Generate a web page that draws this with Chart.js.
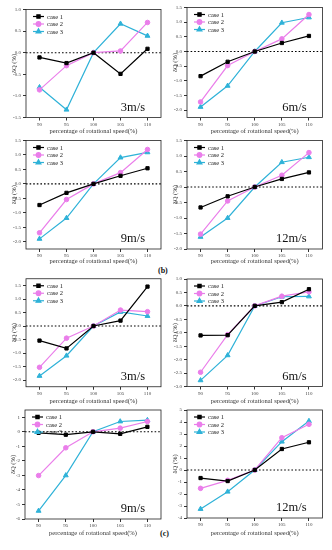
<!DOCTYPE html>
<html>
<head>
<meta charset="utf-8">
<script src="https://cdn.jsdelivr.net/npm/chart.js@4.4.1/dist/chart.umd.min.js"></script>
<style>
  html, body { margin: 0; padding: 0; background: #fff; }
  body { width: 332px; height: 550px; position: relative; overflow: hidden; }
  .tag { position: absolute; font: bold 8px 'Liberation Serif', serif; color: #111; }
</style>
</head>
<body>
<div class="tag" style="left:158px;top:266px">(b)</div>
<div class="tag" style="left:160px;top:529px">(c)</div>
<script>
const speeds = ['90', '95', '100', '105', '110'];
const caseNames = ['case 1', 'case 2', 'case 3'];
const speedTags = ['3m/s', '6m/s', '9m/s', '12m/s'];

// (b)
const b3Case1 = [-0.11, -0.24, 0, -0.49, 0.09];
const b3Case2 = [-0.86, -0.30, 0, 0.04, 0.70];
const b3Case3 = [-0.80, -1.32, 0, 0.67, 0.39];
const b6Case1 = [-0.84, -0.35, 0, 0.29, 0.53];
const b6Case2 = [-1.72, -0.48, 0, 0.43, 1.26];
const b6Case3 = [-1.89, -1.17, 0, 0.98, 1.16];
const b9Case1 = [-0.73, -0.31, 0, 0.28, 0.54];
const b9Case2 = [-1.69, -0.54, 0, 0.39, 1.19];
const b9Case3 = [-1.90, -1.18, 0, 0.91, 1.09];
const b12Case1 = [-0.66, -0.30, 0, 0.26, 0.47];
const b12Case2 = [-1.52, -0.45, 0, 0.38, 1.11];
const b12Case3 = [-1.61, -1.00, 0, 0.80, 0.96];

// (c)
const c3Case1 = [-0.54, -0.83, 0, 0.20, 1.46];
const c3Case2 = [-1.53, -0.45, 0, 0.59, 0.53];
const c3Case3 = [-1.85, -1.10, 0, 0.52, 0.37];
const c6Case1 = [-1.10, -1.09, 0, 0.14, 0.62];
const c6Case2 = [-2.47, -1.07, 0, 0.36, 0.52];
const c6Case3 = [-2.77, -1.84, 0, 0.34, 0.35];
const c9Case1 = [-0.07, -0.20, 0, -0.14, 0.34];
const c9Case2 = [-3.01, -1.10, 0, 0.25, 0.71];
const c9Case3 = [-5.44, -3.00, 0, 0.71, 0.80];
const c12Case1 = [-0.67, -0.92, 0, 1.75, 2.31];
const c12Case2 = [-1.53, -0.86, 0, 2.69, 3.81];
const c12Case3 = [-3.25, -1.81, 0, 2.36, 4.08];

// y tick values
const ticksA = [-1.5, -1.0, -0.5, 0, 0.5, 1.0];
const ticksB = [-2.0, -1.5, -1.0, -0.5, 0, 0.5, 1.0, 1.5];
const ticksC = [-3.0, -2.5, -2.0, -1.5, -1.0, -0.5, 0, 0.5, 1.0];
const ticksD = [-6, -5, -4, -3, -2, -1, 0, 1];
const ticksE = [-4, -3, -2, -1, 0, 1, 2, 3, 4, 5];

const colors = ['#000000', '#ea7eea', '#2fb2d8'];
const marks = ['rect', 'circle', 'triangle'];
const serif = "'Liberation Serif', 'Times New Roman', serif";

// box = canvas [x, y, w, h], plot = [left, top, right, bottom] in page px
const panels = [
  { box: [0, 0, 166, 135], plot: [26, 9.5, 161, 117.5], series: [b3Case1, b3Case2, b3Case3], ticks: ticksA, min: -1.5, max: 1.0, dec: 1, tag: speedTags[0] },
  { box: [166, 0, 166, 135], plot: [187, 7.5, 322.5, 117.5], series: [b6Case1, b6Case2, b6Case3], ticks: ticksB, min: -2.25, max: 1.5, dec: 1, tag: speedTags[1] },
  { box: [0, 135, 166, 130], plot: [26, 140.5, 161, 249], series: [b9Case1, b9Case2, b9Case3], ticks: ticksB, min: -2.25, max: 1.5, dec: 1, tag: speedTags[2] },
  { box: [166, 135, 166, 130], plot: [187, 140.5, 322.5, 249], series: [b12Case1, b12Case2, b12Case3], ticks: ticksB, min: -2.0, max: 1.5, dec: 1, tag: speedTags[3] },
  { box: [0, 270, 166, 135], plot: [26, 278.75, 161, 386.75], series: [c3Case1, c3Case2, c3Case3], ticks: ticksB, min: -2.25, max: 1.75, dec: 1, tag: speedTags[0] },
  { box: [166, 270, 166, 135], plot: [187, 279, 322.5, 386.5], series: [c6Case1, c6Case2, c6Case3], ticks: ticksC, min: -3.0, max: 1.0, dec: 1, tag: speedTags[1] },
  { box: [0, 405, 166, 132], plot: [25, 409.5, 161, 519], series: [c9Case1, c9Case2, c9Case3], ticks: ticksD, min: -6, max: 1.5, dec: 0, tag: speedTags[2] },
  { box: [166, 405, 166, 132], plot: [187, 410, 322.5, 518], series: [c12Case1, c12Case2, c12Case3], ticks: ticksE, min: -4, max: 5, dec: 0, tag: speedTags[3] }
];

const extras = {
  id: 'extras',
  beforeDatasetsDraw(chart) {
    const { ctx, chartArea: a, scales } = chart;
    const y0 = scales.y.getPixelForValue(0);
    ctx.save();
    ctx.strokeStyle = '#000';
    ctx.lineWidth = 1.1;
    ctx.setLineDash([1.6, 2]);
    ctx.beginPath();
    ctx.moveTo(a.left, y0);
    ctx.lineTo(a.right, y0);
    ctx.stroke();
    ctx.restore();
  },
  afterDraw(chart, args, opts) {
    const { ctx, chartArea: a } = chart;
    ctx.save();
    ctx.strokeStyle = '#222';
    ctx.lineWidth = 0.8;
    ctx.strokeRect(a.left, a.top, a.right - a.left, a.bottom - a.top);

    // legend inside the plot, top-left
    chart.data.datasets.forEach((ds, i) => {
      const y = a.top + 7 + i * 7.5;
      ctx.strokeStyle = ds.borderColor;
      ctx.lineWidth = 1.2;
      ctx.beginPath();
      ctx.moveTo(a.left + 7, y);
      ctx.lineTo(a.left + 18, y);
      ctx.stroke();
      ctx.fillStyle = ds.backgroundColor;
      Chart.helpers.drawPoint(ctx, { pointStyle: ds.pointStyle, radius: ds.pointRadius, borderWidth: 1 }, a.left + 12.5, y);
      ctx.fillStyle = '#222';
      ctx.font = '6.5px ' + serif;
      ctx.textBaseline = 'middle';
      ctx.fillText(ds.label, a.left + 21, y + 0.5);
    });

    ctx.fillStyle = '#111';
    ctx.font = '12.5px ' + serif;
    ctx.textAlign = 'right';
    ctx.textBaseline = 'alphabetic';
    ctx.fillText(opts.tag, a.right - 16, a.bottom - 7);
    ctx.restore();
  }
};

function makePanel(p) {
  const cv = document.createElement('canvas');
  cv.width = p.box[2];
  cv.height = p.box[3];
  cv.style.cssText = 'position:absolute;left:' + p.box[0] + 'px;top:' + p.box[1] + 'px';
  document.body.appendChild(cv);

  const yW = p.plot[0] - p.box[0];
  const xH = p.box[1] + p.box[3] - p.plot[3];

  new Chart(cv, {
    type: 'line',
    data: {
      labels: speeds,
      datasets: p.series.map((s, i) => ({
        label: caseNames[i],
        data: s,
        borderColor: colors[i],
        backgroundColor: colors[i],
        pointStyle: marks[i],
        pointRadius: i === 2 ? 2.8 : 2.3,
        pointBorderWidth: 1,
        borderWidth: 1.2,
        tension: 0
      }))
    },
    options: {
      responsive: false,
      animation: false,
      devicePixelRatio: 1,
      layout: { padding: { left: 0, top: p.plot[1] - p.box[1], right: p.box[0] + p.box[2] - p.plot[2], bottom: 0 } },
      plugins: {
        legend: { display: false },
        tooltip: { enabled: false },
        extras: { tag: p.tag }
      },
      scales: {
        x: {
          type: 'category',
          offset: true,
          grid: { drawOnChartArea: false, drawTicks: true, tickLength: 3, color: '#333' },
          border: { display: false },
          ticks: { font: { family: serif, size: 5 }, color: '#444', padding: 1, maxRotation: 0, autoSkip: false },
          title: { display: true, text: 'percentage of rotational speed(%)', font: { family: serif, size: 6.5 }, color: '#333', padding: 0 },
          afterFit(s) { s.height = xH; }
        },
        y: {
          min: p.min,
          max: p.max,
          afterBuildTicks(s) { s.ticks = p.ticks.map(v => ({ value: v })); },
          grid: { drawOnChartArea: false, drawTicks: true, tickLength: 3, color: '#333' },
          border: { display: false },
          ticks: { font: { family: serif, size: 5 }, color: '#444', padding: 2, autoSkip: false, callback: v => Number(v).toFixed(p.dec) },
          title: { display: true, text: 'δQ (%)', font: { family: serif, size: 6.5 }, color: '#333', padding: { top: yW - 16 } },
          afterFit(s) { s.width = yW; }
        }
      }
    },
    plugins: [extras]
  });
}

panels.forEach(makePanel);
</script>
</body>
</html>
